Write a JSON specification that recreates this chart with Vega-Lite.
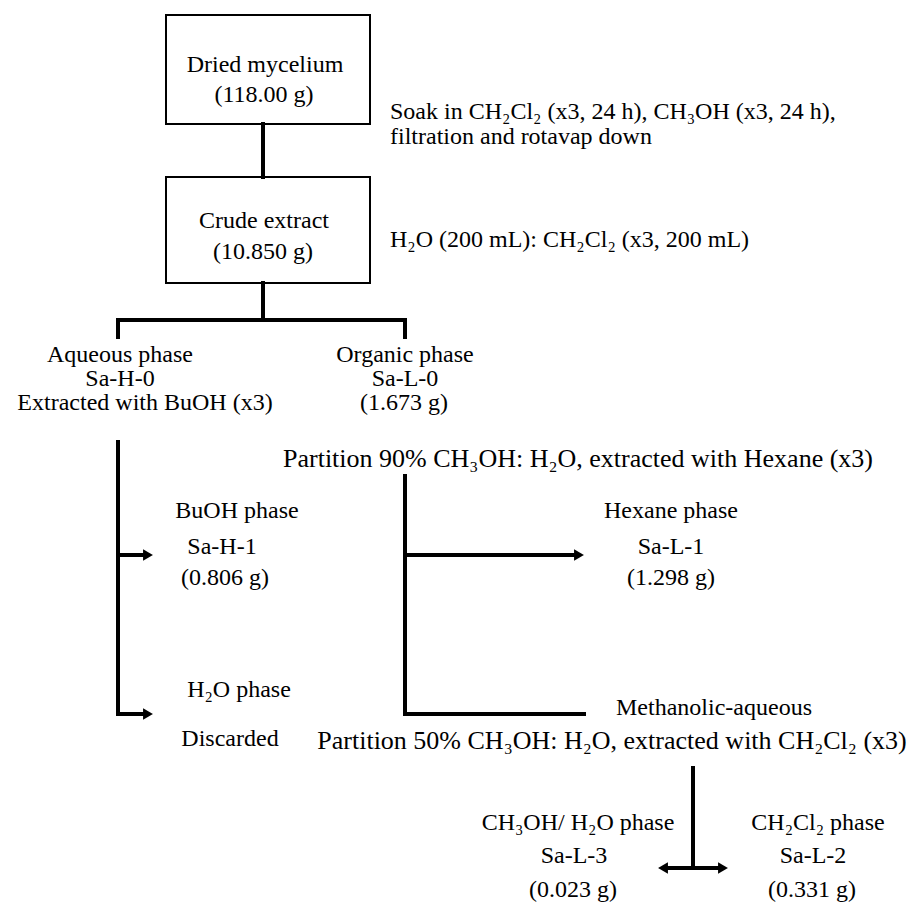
{
  "$schema": "https://vega.github.io/schema/vega-lite/v6.json",
  "width": 910,
  "height": 913,
  "padding": 0,
  "autosize": {"type": "none"},
  "background": "white",
  "config": {"view": {"stroke": null}, "text": {"font": "Liberation Serif", "color": "black"}},
  "datasets": {
    "boxes": [
      {"node": "Dried mycelium", "x": 166, "y": 15, "x2": 370, "y2": 124},
      {"node": "Crude extract", "x": 166, "y": 177, "x2": 370, "y2": 283}
    ],
    "links": [
      {"x": 263, "y": 124, "x2": 263, "y2": 177},
      {"x": 263, "y": 283, "x2": 263, "y2": 320},
      {"x": 118, "y": 320, "x2": 405, "y2": 320},
      {"x": 118, "y": 320, "x2": 118, "y2": 337},
      {"x": 405, "y": 320, "x2": 405, "y2": 337},
      {"x": 118, "y": 442, "x2": 118, "y2": 714},
      {"x": 118, "y": 555, "x2": 145, "y2": 555},
      {"x": 118, "y": 714, "x2": 145, "y2": 714},
      {"x": 405, "y": 476, "x2": 405, "y2": 714},
      {"x": 405, "y": 555, "x2": 576, "y2": 555},
      {"x": 405, "y": 714, "x2": 584, "y2": 714},
      {"x": 693, "y": 768, "x2": 693, "y2": 868},
      {"x": 666, "y": 868, "x2": 720, "y2": 868}
    ],
    "heads": [
      {"x": 148, "y": 555, "dir": "right"},
      {"x": 148, "y": 714, "dir": "right"},
      {"x": 579, "y": 555, "dir": "right"},
      {"x": 663, "y": 868, "dir": "left"},
      {"x": 723, "y": 868, "dir": "right"}
    ],
    "labels": [
      {"t": "Dried mycelium", "x": 265, "y": 65},
      {"t": "(118.00 g)", "x": 264, "y": 95},
      {"t": "Crude extract", "x": 264, "y": 221},
      {"t": "(10.850 g)", "x": 263, "y": 252},
      {"t": "Aqueous phase", "x": 120, "y": 355},
      {"t": "Sa-H-0", "x": 120, "y": 379},
      {"t": "Extracted with BuOH (x3)", "x": 145, "y": 403},
      {"t": "Organic phase", "x": 405, "y": 355},
      {"t": "Sa-L-0", "x": 405, "y": 379},
      {"t": "(1.673 g)", "x": 404, "y": 403},
      {"t": "BuOH phase", "x": 237, "y": 511},
      {"t": "Sa-H-1", "x": 222, "y": 547},
      {"t": "(0.806 g)", "x": 225, "y": 578},
      {"t": "Hexane phase", "x": 671, "y": 511},
      {"t": "Sa-L-1", "x": 671, "y": 547},
      {"t": "(1.298 g)", "x": 671, "y": 578},
      {"t": "H₂O phase", "x": 239, "y": 690},
      {"t": "Discarded", "x": 230, "y": 739},
      {"t": "Methanolic-aqueous", "x": 714, "y": 708},
      {"t": "CH₃OH/ H₂O phase", "x": 578, "y": 823},
      {"t": "Sa-L-3", "x": 574, "y": 856},
      {"t": "(0.023 g)", "x": 573, "y": 890},
      {"t": "CH₂Cl₂ phase", "x": 818, "y": 823},
      {"t": "Sa-L-2", "x": 813, "y": 856},
      {"t": "(0.331 g)", "x": 812, "y": 890}
    ],
    "notes": [
      {"t": "Soak in CH₂Cl₂ (x3, 24 h), CH₃OH (x3, 24 h),", "x": 390, "y": 112},
      {"t": "filtration and rotavap down", "x": 390, "y": 137},
      {"t": "H₂O (200 mL): CH₂Cl₂ (x3, 200 mL)", "x": 390, "y": 240}
    ],
    "steps": [
      {"t": "Partition 90% CH₃OH: H₂O, extracted with Hexane (x3)", "x": 578, "y": 459},
      {"t": "Partition 50% CH₃OH: H₂O, extracted with CH₂Cl₂ (x3)", "x": 612, "y": 741}
    ]
  },
  "encoding": {
    "x": {"field": "x", "type": "quantitative", "scale": {"domain": [0, 910], "nice": false, "zero": false}, "axis": null},
    "y": {"field": "y", "type": "quantitative", "scale": {"domain": [0, 913], "nice": false, "zero": false, "reverse": true}, "axis": null}
  },
  "layer": [
    {
      "data": {"name": "boxes"},
      "mark": {"type": "rect", "fill": "white", "stroke": "black", "strokeWidth": 2},
      "encoding": {"x2": {"field": "x2"}, "y2": {"field": "y2"}}
    },
    {
      "data": {"name": "links"},
      "mark": {"type": "rule", "color": "black", "strokeWidth": 4, "strokeCap": "square"},
      "encoding": {"x2": {"field": "x2"}, "y2": {"field": "y2"}}
    },
    {
      "data": {"name": "heads"},
      "mark": {"type": "point", "filled": true, "color": "black", "opacity": 1, "size": 130},
      "encoding": {
        "shape": {"field": "dir", "type": "nominal", "scale": {"domain": ["right", "left"], "range": ["triangle-right", "triangle-left"]}, "legend": null}
      }
    },
    {
      "data": {"name": "labels"},
      "mark": {"type": "text", "fontSize": 24, "align": "center", "baseline": "middle"},
      "encoding": {"text": {"field": "t"}}
    },
    {
      "data": {"name": "notes"},
      "mark": {"type": "text", "fontSize": 24, "align": "left", "baseline": "middle"},
      "encoding": {"text": {"field": "t"}}
    },
    {
      "data": {"name": "steps"},
      "mark": {"type": "text", "fontSize": 26, "align": "center", "baseline": "middle"},
      "encoding": {"text": {"field": "t"}}
    }
  ]
}
